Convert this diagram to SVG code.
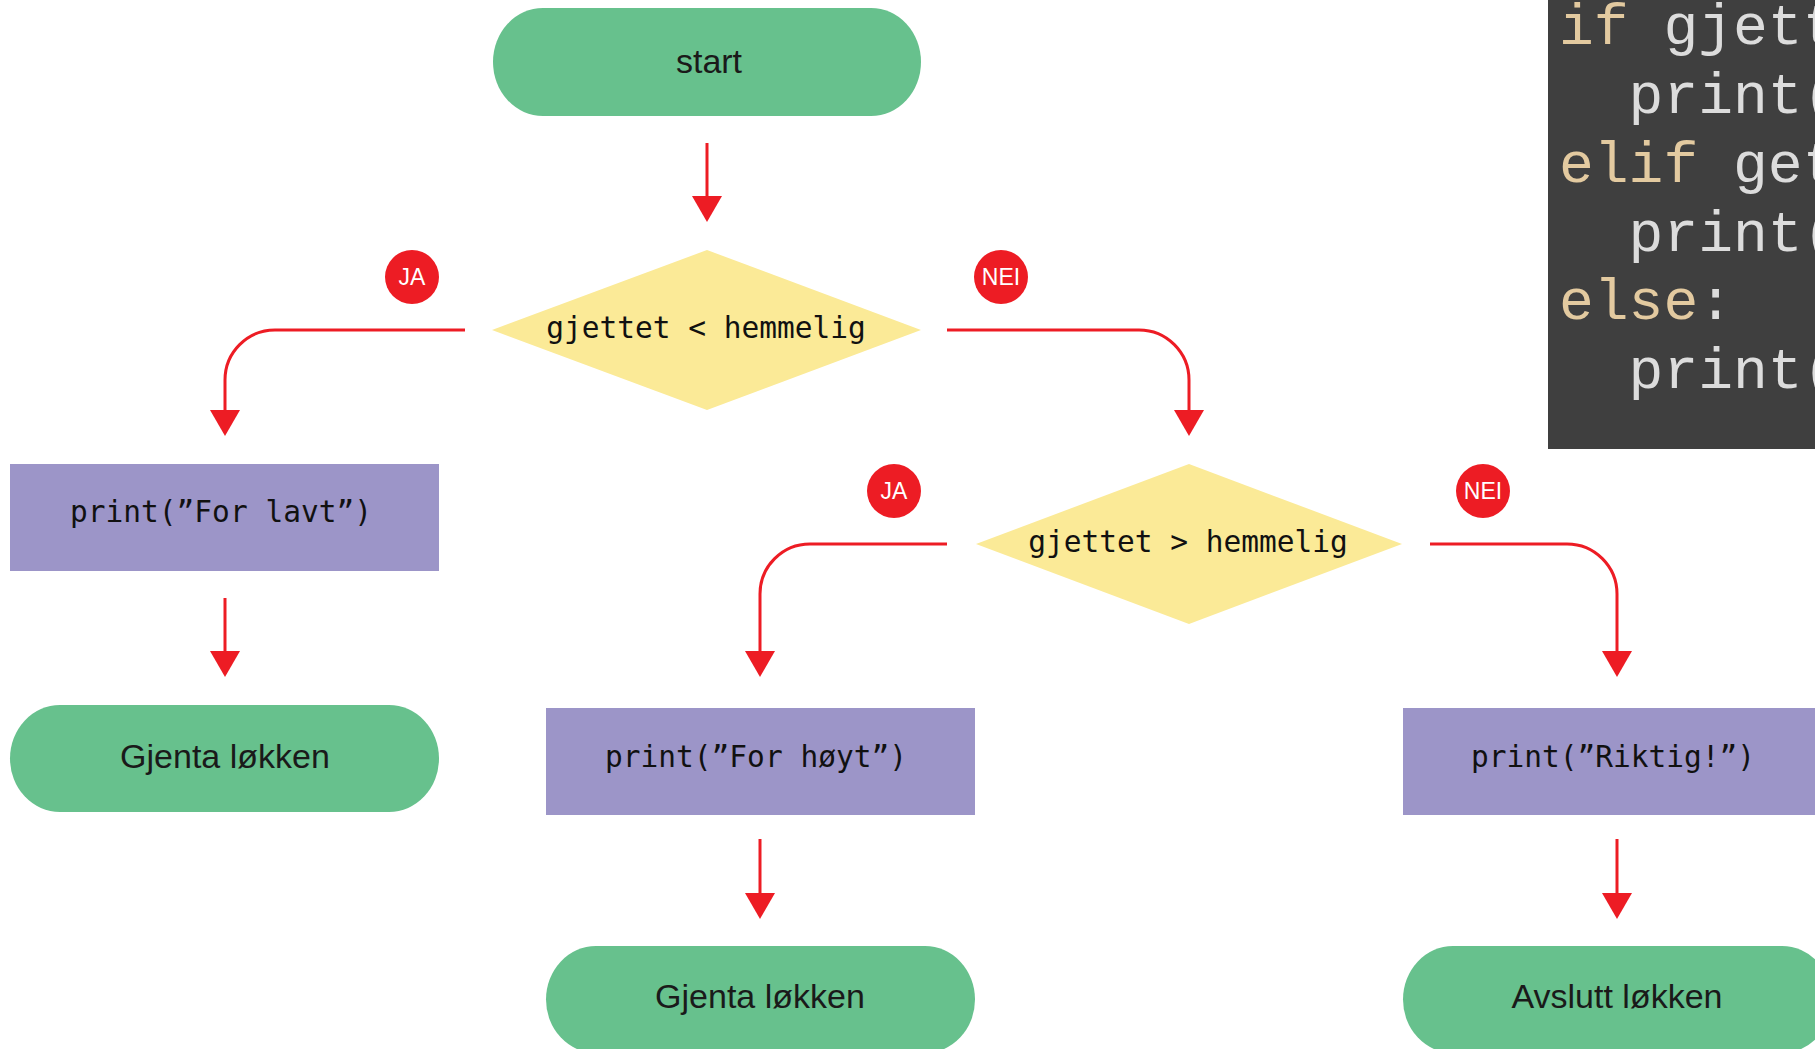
<svg xmlns="http://www.w3.org/2000/svg" width="1815" height="1049" viewBox="0 0 1815 1049">
  <style>
    .term { fill: #67c18d; }
    .proc { fill: #9c95c8; }
    .dec { fill: #fbea97; }
    .label { font-family: "Liberation Sans", Arial, sans-serif; font-size: 34px; fill: #1a1a1a; text-anchor: middle; }
    .mono { font-family: "DejaVu Sans Mono", "Liberation Mono", monospace; font-size: 29.5px; fill: #111; text-anchor: middle; }
    .badge circle { fill: #ed1c24; }
    .badge text { font-family: "Liberation Sans", Arial, sans-serif; font-size: 23px; fill: #fff; text-anchor: middle; }
    .conn { fill: none; stroke: #ed1c24; stroke-width: 3; }
    .code { font-family: "Liberation Mono", "Courier New", monospace; font-size: 58px; fill: #dcdcdc; }
    .kw { fill: #e3caa0; }
  </style>
  <defs>
    <marker id="arrow" markerUnits="userSpaceOnUse" markerWidth="27" markerHeight="30" refX="0" refY="15" orient="auto" overflow="visible">
      <path d="M0,0 L26,15 L0,30 Z" fill="#ed1c24"/>
    </marker>
  </defs>

  <rect width="1815" height="1049" fill="#ffffff"/>

  <!-- code listing panel -->
  <g id="code">
    <rect x="1548" y="-2" width="270" height="451" fill="#3f3f3f"/>
    <text class="code" x="1559" y="44"><tspan class="kw">if</tspan> gjett</text>
    <text class="code" x="1559" y="113" xml:space="preserve">  print(</text>
    <text class="code" x="1559" y="182"><tspan class="kw">elif</tspan> get</text>
    <text class="code" x="1559" y="251" xml:space="preserve">  print(</text>
    <text class="code" x="1559" y="319"><tspan class="kw">else</tspan>:</text>
    <text class="code" x="1559" y="388" xml:space="preserve">  print(</text>
  </g>

  <!-- connectors -->
  <g id="connectors">
    <path class="conn" d="M707,143 V196" marker-end="url(#arrow)"/>
    <path class="conn" d="M465,330 H275 A50,50 0 0 0 225,380 V410" marker-end="url(#arrow)"/>
    <path class="conn" d="M947,330 H1139 A50,50 0 0 1 1189,380 V410" marker-end="url(#arrow)"/>
    <path class="conn" d="M225,598 V651" marker-end="url(#arrow)"/>
    <path class="conn" d="M947,544 H810 A50,50 0 0 0 760,594 V651" marker-end="url(#arrow)"/>
    <path class="conn" d="M1430,544 H1567 A50,50 0 0 1 1617,594 V651" marker-end="url(#arrow)"/>
    <path class="conn" d="M760,839 V893" marker-end="url(#arrow)"/>
    <path class="conn" d="M1617,839 V893" marker-end="url(#arrow)"/>
  </g>

  <!-- branch badges -->
  <g id="badge-ja-1" class="badge"><circle cx="412" cy="277" r="27"/><text x="412" y="285">JA</text></g>
  <g id="badge-nei-1" class="badge"><circle cx="1001" cy="277" r="27"/><text x="1001" y="285">NEI</text></g>
  <g id="badge-ja-2" class="badge"><circle cx="894" cy="491" r="27"/><text x="894" y="499">JA</text></g>
  <g id="badge-nei-2" class="badge"><circle cx="1483" cy="491" r="27"/><text x="1483" y="499">NEI</text></g>

  <!-- nodes -->
  <g id="start">
    <rect class="term" x="493" y="8" width="428" height="108" rx="50" ry="54"/>
    <text class="label" x="709" y="73">start</text>
  </g>

  <g id="cond-less">
    <polygon class="dec" points="492,330 707,250 921,330 707,410"/>
    <text class="mono" x="706" y="338">gjettet &lt; hemmelig</text>
  </g>

  <g id="print-low">
    <rect class="proc" x="10" y="464" width="429" height="107"/>
    <text class="mono" x="221" y="522">print(”For lavt”)</text>
  </g>

  <g id="repeat-1">
    <rect class="term" x="10" y="705" width="429" height="107" rx="50" ry="53.5"/>
    <text class="label" x="225" y="768">Gjenta løkken</text>
  </g>

  <g id="cond-greater">
    <polygon class="dec" points="976,544 1189,464 1402,544 1189,624"/>
    <text class="mono" x="1188" y="552">gjettet &gt; hemmelig</text>
  </g>

  <g id="print-high">
    <rect class="proc" x="546" y="708" width="429" height="107"/>
    <text class="mono" x="756" y="767">print(”For høyt”)</text>
  </g>

  <g id="repeat-2">
    <rect class="term" x="546" y="946" width="429" height="107" rx="50" ry="53.5"/>
    <text class="label" x="760" y="1008">Gjenta løkken</text>
  </g>

  <g id="print-right">
    <rect class="proc" x="1403" y="708" width="429" height="107"/>
    <text class="mono" x="1613" y="767">print(”Riktig!”)</text>
  </g>

  <g id="exit">
    <rect class="term" x="1403" y="946" width="429" height="107" rx="50" ry="53.5"/>
    <text class="label" x="1617" y="1008">Avslutt løkken</text>
  </g>
</svg>
